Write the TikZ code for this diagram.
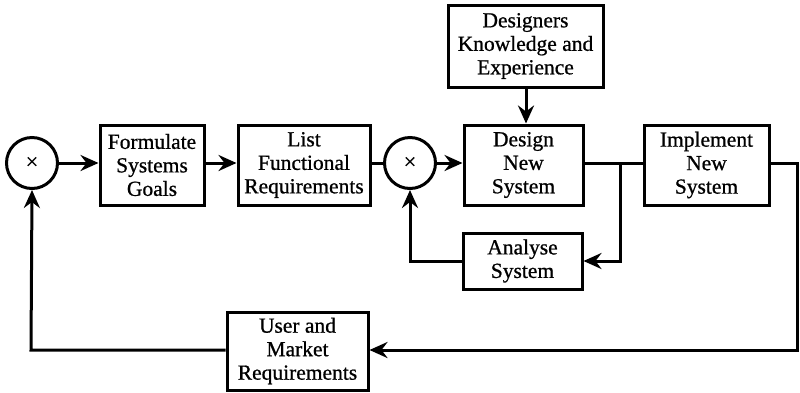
\documentclass[tikz,border=0pt]{standalone}
\usepackage{fontspec}
\setmainfont{Liberation Serif}
\newfontfamily\boxfont[FakeBold=0.8]{Liberation Serif}
\usetikzlibrary{arrows.meta}
\begin{document}
\begin{tikzpicture}[x=1pt,y=-1pt,
  box/.style={draw, line width=3pt, align=center, inner sep=0pt,
    font=\boxfont\fontsize{21.5}{23.5}\selectfont},
  junction/.style={draw, circle, line width=3pt, minimum size=51pt, inner sep=0pt,
    font=\boxfont\fontsize{22}{22}\selectfont},
  conn/.style={line width=3pt},
  arr/.style={conn, -{Stealth[length=18pt,width=16pt,inset=6pt]}}]
\useasboundingbox (0,0) rectangle (800,392);
\node[junction] (c1) at (32,163) {×};
\node[box, minimum width=104pt, minimum height=80pt] (form) at (152,165) {Formulate\\Systems\\Goals};
\node[box, minimum width=132pt, minimum height=80pt] (list) at (304,165) {List\\Functional\\Requirements};
\node[junction] (c2) at (410,163) {×};
\node[box, minimum width=119pt, minimum height=80pt] (design) at (523.5,165) {Design\\New\\System};
\node[box, minimum width=155pt, minimum height=82pt] (know) at (525.5,46) {Designers\\Knowledge and\\Experience};
\node[box, minimum width=125pt, minimum height=80pt] (impl) at (706.5,165) {Implement\\New\\System};
\node[box, minimum width=119pt, minimum height=56pt] (anal) at (522.5,261) {Analyse\\System};
\node[box, minimum width=141pt, minimum height=78pt] (user) at (297.5,351) {User and\\Market\\Requirements};
\coordinate (br) at (620,163);
\coordinate (r1) at (797,163);
\coordinate (r2) at (797,350);
\coordinate (l1) at (31,350);
\draw[arr] (c1.east) -- (form.west |- c1.east);
\draw[arr] (form.east |- c1.east) -- (list.west |- c1.east);
\draw[conn] (list.east |- c2.west) -- (c2.west);
\draw[arr] (c2.east) -- (design.west |- c2.east);
\draw[arr] (know.south -| 526,0) -- (design.north -| 526,0);
\draw[conn] (design.east |- br) -- (impl.west |- br);
\draw[arr] (br) |- (anal.east);
\draw[arr] (anal.west) -| (c2.south);
\draw[arr] (impl.east |- r1) -- (r1) -- (r2) -- (user.east |- r2);
\draw[arr] (user.west |- l1) -- (l1) -- (c1.south);
\end{tikzpicture}
\end{document}
